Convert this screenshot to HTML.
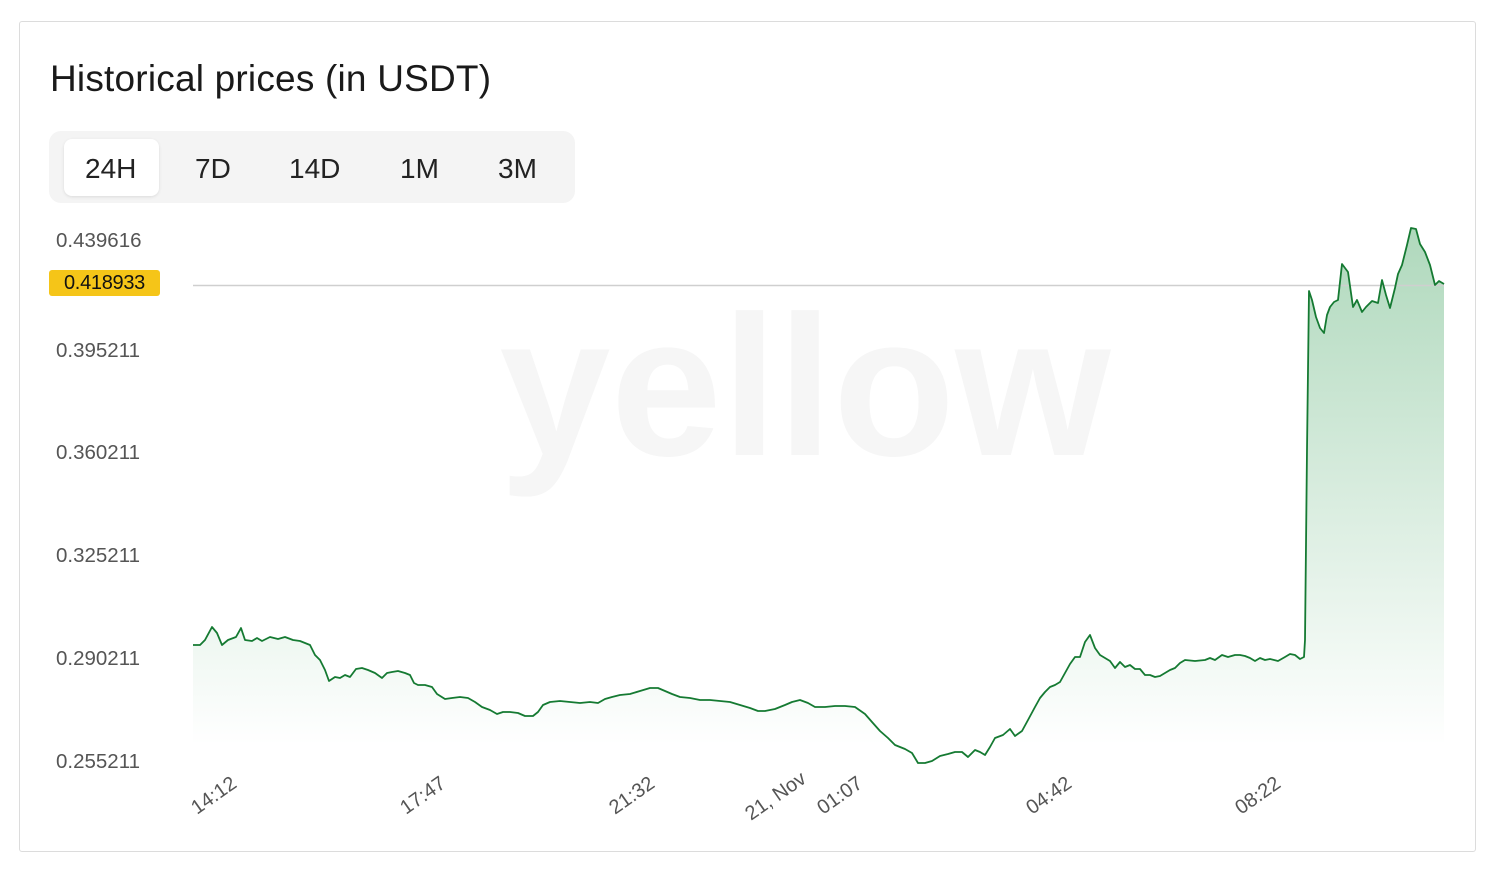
<!DOCTYPE html>
<html><head><style>
body{margin:0;background:#fff;font-family:"Liberation Sans",sans-serif;}
.card{position:absolute;left:19px;top:21px;width:1455px;height:829px;border:1px solid #dcdcdc;border-radius:3px;}
.t{position:absolute;left:50px;top:58px;font-size:37px;color:#1a1a1a;letter-spacing:0.2px;}
.tabs{position:absolute;left:49px;top:131px;width:526px;height:72px;background:#f4f4f4;border-radius:12px;}
.tab{position:absolute;top:22px;font-size:28px;color:#222;}
.act{position:absolute;left:15px;top:8px;width:95px;height:57px;background:#fff;border-radius:8px;box-shadow:0 1px 3px rgba(0,0,0,.1);}
.y{position:absolute;left:56px;font-size:20.5px;color:#555;}
.badge{position:absolute;left:49px;top:270px;width:111px;height:26px;background:#f5c518;border-radius:3px;font-size:20px;color:#111;text-align:center;line-height:27px;letter-spacing:-0.3px;}
</style></head><body>
<div class="card"></div>
<div class="t">Historical prices (in USDT)</div>
<div class="tabs"><div class="act"></div>
<span class="tab" style="left:36px">24H</span><span class="tab" style="left:146px">7D</span><span class="tab" style="left:240px">14D</span><span class="tab" style="left:351px">1M</span><span class="tab" style="left:449px">3M</span></div>
<div class="y" style="top:229px">0.439616</div>
<div class="badge">0.418933</div>
<div class="y" style="top:339px">0.395211</div>
<div class="y" style="top:441px">0.360211</div>
<div class="y" style="top:544px">0.325211</div>
<div class="y" style="top:647px">0.290211</div>
<div class="y" style="top:750px">0.255211</div>
<svg width="1500" height="882" style="position:absolute;left:0;top:0">
<defs><linearGradient id="g" x1="0" y1="230" x2="0" y2="745" gradientUnits="userSpaceOnUse"><stop offset="0" stop-color="#2e9a50" stop-opacity=".38"/><stop offset="1" stop-color="#2e9a50" stop-opacity="0"/></linearGradient></defs>
<text x="805" y="455" text-anchor="middle" font-size="200" font-weight="bold" fill="#f6f6f6" font-family="Liberation Sans">yellow</text>
<polygon id="p" fill="url(#g)" points=""/>
<line x1="193" y1="285.5" x2="1444" y2="285.5" stroke="#cfcfcf" stroke-width="1.5"/>
<polyline id="l" fill="none" stroke="#157a32" stroke-width="1.8" stroke-linejoin="round" points=""/>
<g font-size="20" fill="#555" font-family="Liberation Sans">
<text transform="translate(197,815) rotate(-35)">14:12</text>
<text transform="translate(406,815) rotate(-35)">17:47</text>
<text transform="translate(615,815) rotate(-35)">21:32</text>
<text transform="translate(751,821) rotate(-35)">21, Nov</text>
<text transform="translate(823,815) rotate(-35)">01:07</text>
<text transform="translate(1032,815) rotate(-35)">04:42</text>
<text transform="translate(1241,815) rotate(-35)">08:22</text>
</g>
</svg>
<script>
var d="193,645 200,645 205,640 212,627 217,633 222,645 228,640 236,637 241,628 245,640 252,641 257,638 262,641 270,637 278,639 285,637 293,640 300,641 305,643 310,645 315,655 320,660 325,670 329,681 335,677 340,678 345,675 350,677 356,669 362,668 368,670 375,673 382,678 387,673 392,672 398,671 405,673 410,675 414,683 418,685 425,685 432,687 437,694 445,699 452,698 460,697 468,698 475,702 482,707 490,710 497,714 503,712 510,712 518,713 525,716 533,716 538,712 543,705 550,702 560,701 570,702 580,703 590,702 598,703 605,699 612,697 620,695 630,694 640,691 650,688 658,688 665,691 672,694 680,697 690,698 700,700 710,700 720,701 730,702 740,705 750,708 758,711 765,711 775,709 785,705 792,702 800,700 808,703 815,707 825,707 835,706 845,706 855,707 865,714 872,722 880,731 888,738 895,745 905,749 912,753 918,763 925,763 932,761 940,756 948,754 955,752 962,752 968,757 975,750 980,752 985,755 990,747 995,738 1003,735 1010,729 1015,736 1022,731 1028,720 1035,707 1040,698 1045,692 1050,687 1055,685 1060,682 1065,673 1070,664 1075,657 1080,657 1085,642 1090,635 1095,648 1100,655 1105,658 1110,661 1115,668 1120,662 1125,667 1130,665 1135,669 1140,669 1145,675 1150,675 1155,677 1160,676 1165,673 1170,670 1175,668 1180,663 1185,660 1195,661 1205,660 1210,658 1215,660 1222,655 1228,657 1235,655 1240,655 1245,656 1250,658 1255,661 1260,658 1265,660 1270,659 1278,661 1285,657 1290,654 1295,655 1300,659 1304,657 1305,640 1307,450 1309,291 1312,300 1316,317 1320,328 1324,333 1327,315 1330,307 1334,302 1338,300 1342,264 1348,272 1353,307 1357,300 1362,312 1366,307 1372,301 1378,303 1382,280 1386,295 1390,308 1395,288 1398,274 1402,265 1407,245 1411,228 1416,229 1420,244 1425,252 1430,265 1435,285 1439,281 1444,284";
document.getElementById('l').setAttribute('points',d);
document.getElementById('p').setAttribute('points',d+" 1444,745 193,745");
</script>
</body></html>
